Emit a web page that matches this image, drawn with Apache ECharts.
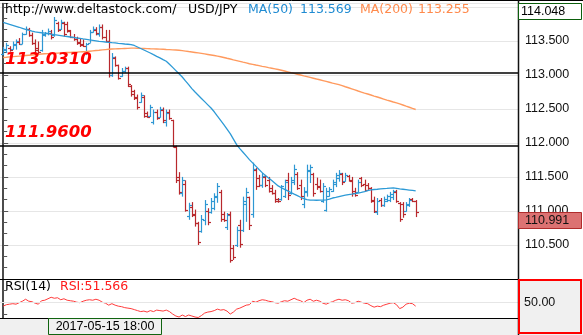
<!DOCTYPE html>
<html>
<head>
<meta charset="utf-8">
<script src="https://cdn.jsdelivr.net/npm/echarts@6/dist/echarts.min.js"></script>
<style>
  html, body { margin: 0; padding: 0; background: #ffffff; }
  #chart { width: 583px; height: 335px; }
</style>
</head>
<body>
<div id="chart"></div>
<script>
// USD/JPY hourly bars (open / high / low / close)
const opens = [
  113.31,113.36,113.40,113.38,113.44,113.48,113.46,113.60,113.68,113.59,
  113.47,113.40,113.36,113.58,113.62,113.62,113.58,113.76,113.67,113.76,
  113.74,113.65,113.56,113.52,113.48,113.46,113.32,113.47,113.63,113.66,
  113.60,113.70,113.56,113.50,113.00,113.25,113.14,112.98,113.05,113.10,
  112.84,112.76,112.68,112.60,112.68,112.44,112.40,112.30,112.46,112.38,
  112.49,112.30,112.45,112.33,111.94,111.50,111.26,111.40,110.92,111.06,
  110.95,110.82,110.70,110.86,111.00,110.98,111.05,111.20,111.28,110.95,
  110.76,110.96,110.45,110.50,110.80,110.72,111.10,111.20,110.95,111.60,
  111.48,111.38,111.50,111.45,111.34,111.27,111.18,111.17,111.22,111.45,
  111.26,111.43,111.54,111.38,111.10,111.28,111.58,111.55,111.40,111.36,
  111.15,111.02,111.22,111.30,111.40,111.48,111.55,111.44,111.52,111.44,
  111.30,111.28,111.48,111.40,111.38,111.33,111.16,110.98,111.16,111.08,
  111.15,111.16,111.20,111.28,111.12,111.10,111.00,111.08,111.18,111.14
];
const highs = [
  113.41,113.47,113.42,113.49,113.52,113.54,113.62,113.71,113.69,113.62,
  113.52,113.49,113.66,113.63,113.68,113.66,113.85,113.78,113.81,113.78,
  113.78,113.66,113.60,113.56,113.54,113.52,113.47,113.66,113.71,113.70,
  113.74,113.74,113.66,113.66,113.32,113.27,113.15,113.10,113.12,113.12,
  112.85,112.78,112.71,112.74,112.70,112.46,112.56,112.49,112.49,112.53,
  112.52,112.49,112.49,112.34,111.96,111.57,111.50,111.45,111.12,111.13,
  111.02,110.84,110.94,111.16,111.04,111.19,111.26,111.41,111.31,110.99,
  110.97,110.99,110.50,110.77,110.87,111.21,111.34,111.21,111.71,111.63,
  111.53,111.56,111.53,111.50,111.38,111.31,111.19,111.38,111.46,111.56,
  111.50,111.68,111.57,111.46,111.35,111.68,111.68,111.56,111.49,111.46,
  111.41,111.34,111.35,111.46,111.56,111.60,111.56,111.56,111.53,111.50,
  111.34,111.46,111.50,111.46,111.41,111.35,111.21,111.19,111.19,111.21,
  111.24,111.28,111.31,111.31,111.13,111.13,111.13,111.19,111.19,111.16
];
const lows = [
  113.29,113.32,113.34,113.37,113.37,113.44,113.45,113.59,113.56,113.44,
  113.32,113.29,113.34,113.56,113.58,113.52,113.56,113.63,113.66,113.56,
  113.62,113.54,113.50,113.44,113.41,113.41,113.29,113.47,113.62,113.58,
  113.56,113.52,113.48,112.96,112.97,113.12,112.93,112.97,113.03,112.82,
  112.68,112.63,112.49,112.59,112.37,112.37,112.38,112.27,112.34,112.37,
  112.29,112.24,112.34,111.93,111.41,111.24,111.21,110.99,110.87,110.91,
  110.77,110.50,110.68,110.79,110.79,110.96,111.01,111.12,110.84,110.84,
  110.72,110.24,110.28,110.47,110.46,110.69,110.84,110.72,110.90,111.31,
  111.35,111.34,111.35,111.27,111.24,111.12,111.12,111.15,111.19,111.16,
  111.24,111.38,111.31,111.16,111.04,111.21,111.41,111.21,111.31,111.27,
  111.12,110.99,111.21,111.28,111.35,111.43,111.38,111.43,111.43,111.21,
  111.21,111.27,111.35,111.28,111.31,111.12,110.97,110.94,111.06,111.06,
  111.13,111.13,111.16,111.12,110.84,110.90,110.99,111.06,111.13,110.91
];
const closes = [
  113.38,113.44,113.36,113.46,113.50,113.46,113.60,113.68,113.58,113.47,
  113.36,113.33,113.60,113.62,113.65,113.56,113.80,113.66,113.78,113.60,
  113.66,113.56,113.52,113.47,113.44,113.42,113.45,113.63,113.68,113.62,
  113.70,113.55,113.50,113.00,113.26,113.14,112.96,113.06,113.10,112.86,
  112.72,112.66,112.52,112.70,112.40,112.38,112.52,112.45,112.36,112.50,
  112.33,112.44,112.36,111.96,111.45,111.28,111.46,111.02,111.08,110.94,
  110.82,110.55,110.88,111.10,110.84,111.15,111.22,111.36,110.88,110.86,
  110.94,110.28,110.32,110.72,110.52,111.14,111.28,110.80,111.62,111.36,
  111.38,111.52,111.38,111.30,111.26,111.15,111.14,111.36,111.42,111.24,
  111.46,111.62,111.34,111.22,111.30,111.60,111.64,111.26,111.35,111.30,
  111.36,111.30,111.32,111.42,111.53,111.56,111.42,111.53,111.46,111.26,
  111.24,111.42,111.38,111.31,111.33,111.15,111.00,111.15,111.08,111.18,
  111.22,111.25,111.29,111.15,110.88,110.95,111.10,111.16,111.15,110.991
];

// Moving averages
const ma50 = [
  113.769,113.756,113.741,113.727,113.713,113.699,113.684,113.669,113.656,113.641,
  113.632,113.625,113.618,113.612,113.604,113.597,113.590,113.584,113.577,113.569,
  113.563,113.556,113.549,113.541,113.534,113.527,113.521,113.513,113.506,113.499,
  113.491,113.487,113.482,113.478,113.472,113.468,113.463,113.459,113.453,113.449,
  113.444,113.431,113.409,113.387,113.365,113.343,113.321,113.296,113.272,113.249,
  113.224,113.200,113.156,113.109,113.062,113.015,112.968,112.910,112.855,112.797,
  112.747,112.700,112.653,112.606,112.559,112.512,112.457,112.393,112.331,112.268,
  112.203,112.137,112.055,111.974,111.916,111.863,111.809,111.754,111.706,111.659,
  111.610,111.563,111.522,111.484,111.446,111.407,111.368,111.341,111.318,111.294,
  111.271,111.247,111.224,111.201,111.181,111.165,111.160,111.158,111.157,111.158,
  111.160,111.164,111.174,111.190,111.200,111.211,111.221,111.231,111.240,111.247,
  111.255,111.262,111.272,111.285,111.300,111.310,111.315,111.319,111.324,111.328,
  111.331,111.335,111.338,111.332,111.325,111.319,111.313,111.307,111.301,111.294
];
const ma200 = [
  113.254,113.258,113.263,113.267,113.271,113.275,113.279,113.284,113.288,113.292,
  113.296,113.300,113.305,113.309,113.311,113.314,113.316,113.319,113.322,113.324,
  113.327,113.329,113.332,113.334,113.337,113.340,113.342,113.347,113.352,113.357,
  113.361,113.366,113.371,113.376,113.379,113.381,113.383,113.385,113.387,113.389,
  113.392,113.392,113.390,113.388,113.387,113.385,113.383,113.382,113.380,113.378,
  113.375,113.372,113.370,113.367,113.364,113.361,113.355,113.349,113.342,113.336,
  113.329,113.322,113.315,113.307,113.299,113.291,113.283,113.275,113.266,113.255,
  113.243,113.232,113.220,113.209,113.198,113.186,113.175,113.163,113.154,113.144,
  113.135,113.125,113.116,113.106,113.097,113.088,113.078,113.068,113.056,113.044,
  113.032,113.021,113.009,112.997,112.985,112.974,112.962,112.950,112.938,112.927,
  112.915,112.903,112.891,112.879,112.868,112.856,112.841,112.825,112.810,112.794,
  112.778,112.762,112.747,112.732,112.718,112.703,112.688,112.674,112.659,112.644,
  112.629,112.616,112.601,112.588,112.574,112.557,112.540,112.524,112.507,112.491
];

// RSI(14)
const rsi14 = [
  42,45,46,47,46,49,52,56,52,51,
  48,46,53,54,57,60,58,59,55,57,
  54,53,52,50,49,52,54,55,54,56,
  54,50,48,44,47,44,42,41,39,38,
  37,35,33,31,32,30,33,31,34,33,
  32,34,31,26,22,20,24,21,24,22,
  20,19,23,28,30,31,33,36,34,35,
  32,26,30,36,38,41,44,45,52,50,
  53,55,54,52,51,49,48,51,53,52,
  55,58,55,53,49,54,56,52,54,52,
  48,46,49,51,54,56,54,55,53,48,
  49,52,50,48,47,43,40,42,41,44,
  46,48,49,45,37,40,46,48,47,42
];

// Horizontal levels and their captions
const levelValues = [113.031, 111.960];
const levelCaptions = ['113.0310', '111.9600'];

// Header / legend texts
const siteName = 'http://www.deltastock.com/';
const symbolName = 'USD/JPY';
const ma50Name = 'MA(50)', ma50Value = '113.569';
const ma200Name = 'MA(200)', ma200Value = '113.255';
const rsiName = 'RSI(14)', rsiValue = 'RSI:51.566';
const cursorTime = '2017-05-15 18:00';

// Scale settings
const priceMin = 110.0, priceMax = 114.048, priceStep = 0.5;
const rsiMin = 18, rsiMax = 96;
const rsiTicks = [25, 50, 75], rsiLabels = [50];
const slotMin = -1, slotMax = 161;   // bar slots incl. empty space on the right

const UP = '#2e97d3', DOWN = '#b8282d';
const MA50_COLOR = '#2d9ad6', MA200_COLOR = '#ff9a5e';
const AXIS_FONT = 'Liberation Sans';
const HEAD_FONT = 'DejaVu Sans';

const bars = opens.map((o, i) => [i, o, highs[i], lows[i], closes[i]]);
const ma50Pts = ma50.map((v, i) => [i, v]);
const ma200Pts = ma200.map((v, i) => [i, v]);
const rsiPts = rsi14.map((v, i) => [i, v]);

function renderBar(params, api) {
  const idx = api.value(0);
  const o = api.coord([idx, api.value(1)]);
  const yH = api.coord([idx, api.value(2)])[1];
  const yL = api.coord([idx, api.value(3)])[1];
  const yC = api.coord([idx, api.value(4)])[1];
  const x = Math.round(o[0]) + 0.5;
  const yO = Math.round(o[1]) + 0.5;
  const yc = Math.round(yC) + 0.5;
  const color = api.value(4) >= api.value(1) ? UP : DOWN;
  const st = { stroke: color, lineWidth: 1.2 };
  return {
    type: 'group',
    children: [
      { type: 'line', shape: { x1: x, y1: yH, x2: x, y2: yL }, style: st },
      { type: 'line', shape: { x1: x - 2.5, y1: yO, x2: x, y2: yO }, style: st },
      { type: 'line', shape: { x1: x, y1: yc, x2: x + 2.5, y2: yc }, style: st }
    ]
  };
}

const chart = echarts.init(document.getElementById('chart'), null, { renderer: 'canvas' });

function headText(text, x, y, color) {
  return {
    type: 'text', z: 100,
    style: { text: text, x: x, y: y, fill: color, fontSize: 12.5, fontFamily: HEAD_FONT, verticalAlign: 'middle' }
  };
}

const baseGraphics = [
  // bottom time strip and lower right panel (kept behind the axes)
  { type: 'rect', z: -10, shape: { x: 0, y: 318, width: 518, height: 17 }, style: { fill: '#f0f0f0' } },
  { type: 'rect', z: -10, shape: { x: 518, y: 279, width: 65, height: 56 }, style: { fill: '#f0f0f0' } },
  { type: 'rect', z: 101, shape: { x: 519, y: 280, width: 62, height: 53 }, style: { fill: 'none', stroke: '#ff0000', lineWidth: 2 } },
  // frame lines
  { type: 'line', z: 100, shape: { x1: 0, y1: 0.5, x2: 583, y2: 0.5 }, style: { stroke: '#000', lineWidth: 1 } },
  { type: 'line', z: 100, shape: { x1: 0, y1: 279.5, x2: 518, y2: 279.5 }, style: { stroke: '#000', lineWidth: 1 } },
  { type: 'line', z: 100, shape: { x1: 0, y1: 318.5, x2: 518, y2: 318.5 }, style: { stroke: '#000', lineWidth: 1 } },
  { type: 'line', z: 100, shape: { x1: 518.5, y1: 0, x2: 518.5, y2: 335 }, style: { stroke: '#111', lineWidth: 1.5 } },
  // cursor time box
  { type: 'rect', z: 100, shape: { x: 48.5, y: 318.5, width: 113, height: 16 }, style: { fill: '#f0f0f0', stroke: '#106410', lineWidth: 1 } },
  { type: 'text', z: 101, style: { text: cursorTime, x: 105, y: 327, fill: '#000', fontSize: 12.5, fontFamily: AXIS_FONT, align: 'center', verticalAlign: 'middle' } },
  // header
  headText(siteName, 5, 10, '#000'),
  headText(symbolName, 188, 10, '#000'),
  headText(ma50Name, 248, 10, '#1f8bd2'),
  headText(ma50Value, 300, 10, '#1f8bd2'),
  headText(ma200Name, 360, 10, '#ff8a4c'),
  headText(ma200Value, 418, 10, '#ff8a4c'),
  // RSI caption
  headText(rsiName, 5, 287, '#000'),
  headText(rsiValue, 60, 287, '#ff1a1a'),
  // top-of-scale box
  { type: 'rect', z: 100, shape: { x: 518.5, y: 3.5, width: 63, height: 16 }, style: { fill: '#fff', stroke: '#0b5e0b', lineWidth: 1 } },
  { type: 'text', z: 101, style: { text: priceMax.toFixed(3), x: 521, y: 12, fill: '#000', fontSize: 12.5, fontFamily: AXIS_FONT, verticalAlign: 'middle' } }
];

const option = {
  animation: false,
  backgroundColor: '#ffffff',
  grid: [
    { left: 0, top: 3.5, width: 518, height: 275.5, show: false },
    { left: 0, top: 279.5, width: 518, height: 38.5, show: false }
  ],
  xAxis: [
    { type: 'value', gridIndex: 0, min: slotMin, max: slotMax, show: false },
    { type: 'value', gridIndex: 1, min: slotMin, max: slotMax, show: false }
  ],
  yAxis: [
    {
      type: 'value', gridIndex: 0, position: 'right', min: priceMin, max: priceMax, interval: priceStep,
      axisLine: { show: true, lineStyle: { color: '#111', width: 1.5 } },
      axisTick: { show: true, length: 5, lineStyle: { color: '#555' } },
      minorTick: { show: true, splitNumber: 3, length: 4, lineStyle: { color: '#555' } },
      splitLine: { show: true, lineStyle: { color: '#e6e6e6', width: 1 } },
      axisLabel: {
        margin: 7, color: '#111', fontSize: 12.5, fontFamily: AXIS_FONT,
        formatter: v => (v <= priceMin + 1e-9 || v >= 113.99) ? '' : v.toFixed(3)
      }
    },
    {
      type: 'value', gridIndex: 1, position: 'right', min: rsiMin, max: rsiMax,
      axisLine: { show: true, lineStyle: { color: '#111', width: 1.5 } },
      axisTick: { show: true, length: 4, customValues: rsiTicks, lineStyle: { color: '#555' } },
      splitLine: { show: false },
      axisLabel: {
        show: true, margin: 6, color: '#111', fontSize: 12.5, fontFamily: AXIS_FONT,
        customValues: rsiLabels, formatter: v => Number(v).toFixed(2)
      }
    }
  ],
  series: [
    {
      type: 'custom', name: 'USD/JPY', xAxisIndex: 0, yAxisIndex: 0,
      renderItem: renderBar, data: bars, encode: { x: 0, y: [1, 2, 3, 4] }, z: 3
    },
    {
      type: 'line', name: 'MA200', xAxisIndex: 0, yAxisIndex: 0, data: ma200Pts,
      showSymbol: false, symbol: 'none', lineStyle: { color: MA200_COLOR, width: 1.4 }, z: 4
    },
    {
      type: 'line', name: 'MA50', xAxisIndex: 0, yAxisIndex: 0, data: ma50Pts,
      showSymbol: false, symbol: 'none', lineStyle: { color: MA50_COLOR, width: 1.3 }, z: 4,
      markLine: {
        silent: true, symbol: ['none', 'none'], label: { show: false },
        lineStyle: { color: '#000', width: 1.5, type: 'solid' },
        data: levelValues.map(v => ({ yAxis: v }))
      }
    },
    {
      type: 'line', name: 'RSI', xAxisIndex: 1, yAxisIndex: 1, data: rsiPts,
      showSymbol: false, symbol: 'none', lineStyle: { color: '#ff3b3b', width: 1 }, z: 4,
      markLine: {
        silent: true, symbol: ['none', 'none'], label: { show: false },
        lineStyle: { color: '#e6e6e6', width: 1, type: 'solid' },
        data: [{ yAxis: 50 }]
      }
    }
  ],
  graphic: { elements: baseGraphics }
};

chart.setOption(option);

// Captions above the horizontal levels and the last-price marker, placed through the price scale
const extra = [];
levelValues.forEach((v, k) => {
  const y = chart.convertToPixel({ yAxisIndex: 0 }, v);
  extra.push({
    type: 'text', z: 100,
    style: {
      text: levelCaptions[k], x: 5, y: y - 12.5, fill: '#ff0000',
      fontSize: 16.5, fontWeight: 'bold', fontStyle: 'italic', fontFamily: HEAD_FONT, verticalAlign: 'middle'
    }
  });
});
const lastClose = closes[closes.length - 1];
const yLast = Math.round(chart.convertToPixel({ yAxisIndex: 0 }, lastClose));
extra.push({ type: 'rect', z: 102, shape: { x: 518.5, y: yLast + 0.5, width: 63, height: 16 }, style: { fill: '#dc7272', stroke: '#b02c2c', lineWidth: 1 } });
extra.push({ type: 'text', z: 103, style: { text: lastClose.toFixed(3), x: 525, y: yLast + 8.5, fill: '#111', fontSize: 12.5, fontFamily: AXIS_FONT, verticalAlign: 'middle' } });

chart.setOption({ graphic: { elements: baseGraphics.concat(extra) } });
</script>
</body>
</html>
